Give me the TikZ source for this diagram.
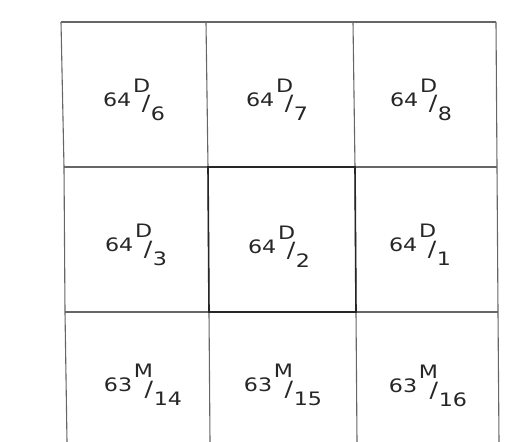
\documentclass[tikz,border=0pt]{standalone}
\usepackage{fontspec}
\setmainfont{DejaVu Sans}
\newcommand\gridlbl[3]{\scalebox{1.2}[1]{#1\hspace{1.5pt}\raisebox{14pt}{#2}\hspace{-7pt}\raisebox{-4.5pt}{\fontsize{21}{21}\selectfont/}\hspace{0.5pt}\raisebox{-14pt}{#3}}}
\begin{document}
\begin{tikzpicture}[x=1pt,y=-1pt,
  gridline/.style={draw=black!60,line width=1.1pt},
  heavyline/.style={draw=black!85,line width=1.6pt},
  sheet/.style={font=\fontsize{18.5}{18.5}\selectfont,text=black!85,inner sep=0pt}]
\useasboundingbox (0,0) rectangle (520,442);
% corner coordinates
\coordinate (a0) at (61,22);  \coordinate (b0) at (206,22);  \coordinate (c0) at (353,22);  \coordinate (d0) at (496,22);
\coordinate (a1) at (64,167); \coordinate (b1) at (208,167); \coordinate (c1) at (355,167); \coordinate (d1) at (497,167);
\coordinate (a2) at (65,312); \coordinate (b2) at (209,312); \coordinate (c2) at (356,312); \coordinate (d2) at (498,312);
\coordinate (a3) at (67,442); \coordinate (b3) at (210,442); \coordinate (c3) at (357,442); \coordinate (d3) at (499,442);
% grid
\draw[gridline] (a0) -- (d0);
\draw[gridline] (a1) -- (d1);
\draw[gridline] (a2) -- (d2);
\draw[gridline] (a0) -- (a1) -- (a2) -- (a3);
\draw[gridline] (b0) -- (b1) -- (b2) -- (b3);
\draw[gridline] (c0) -- (c1) -- (c2) -- (c3);
\draw[gridline] (d0) -- (d1) -- (d2) -- (d3);
\draw[heavyline] (b1) -- (c1) -- (c2) -- (b2) -- cycle;
% labels
\node[sheet] (s6) at (134,99.5) {\gridlbl{64}{D}{6}};
\node[sheet] (s7) at (277,99.5) {\gridlbl{64}{D}{7}};
\node[sheet] (s8) at (421,99.5) {\gridlbl{64}{D}{8}};
\node[sheet] (s3) at (136,245) {\gridlbl{64}{D}{3}};
\node[sheet] (s2) at (279,246.5) {\gridlbl{64}{D}{2}};
\node[sheet] (s1) at (420,245) {\gridlbl{64}{D}{1}};
\node[sheet] (m14) at (143,385) {\gridlbl{63}{M}{14}};
\node[sheet] (m15) at (283,385) {\gridlbl{63}{M}{15}};
\node[sheet] (m16) at (428,386) {\gridlbl{63}{M}{16}};
\end{tikzpicture}
\end{document}
